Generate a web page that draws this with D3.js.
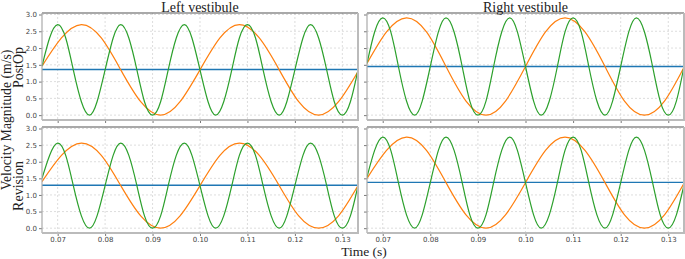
<!DOCTYPE html>
<html>
<head>
<meta charset="utf-8">
<script src="https://cdn.jsdelivr.net/npm/d3@7"></script>
<style>
  html, body { margin: 0; padding: 0; background: #fff; }
  svg { display: block; }
</style>
</head>
<body>
<div id="chart"></div>
<script>
// sample times (s) read along the x axis
const timeOrange = [0.0667, 0.0708, 0.0750, 0.0792, 0.0833, 0.0875, 0.0917, 0.0958, 0.1000,
  0.1042, 0.1083, 0.1125, 0.1167, 0.1208, 0.1250, 0.1292, 0.1333];
const timeGreen = [0.0667, 0.0683, 0.0700, 0.0717, 0.0733, 0.0750, 0.0767, 0.0783,
  0.0800, 0.0817, 0.0833, 0.0850, 0.0867, 0.0883, 0.0900, 0.0917,
  0.0933, 0.0950, 0.0967, 0.0983, 0.1000, 0.1017, 0.1033, 0.1050,
  0.1067, 0.1083, 0.1100, 0.1117, 0.1133, 0.1150, 0.1167, 0.1183,
  0.1200, 0.1217, 0.1233, 0.1250, 0.1267, 0.1283, 0.1300, 0.1317, 0.1333];

const xTicks = [0.07, 0.08, 0.09, 0.10, 0.11, 0.12, 0.13];
const yTicks = [0.0, 0.5, 1.0, 1.5, 2.0, 2.5, 3.0];
const colTitles = ['Left vestibule', 'Right vestibule'];
const rowTitles = ['PostOp', 'Revision'];

// mean velocity (blue, flat)
const postOpLeftMean = 1.36;
const postOpRightMean = 1.45;
const revisionLeftMean = 1.29;
const revisionRightMean = 1.38;

// orange curve
const postOpLeftOrange = [1.46, 2.30, 2.70, 2.30, 1.35, 0.40, 0.00, 0.40, 1.35,
  2.30, 2.70, 2.30, 1.35, 0.40, 0.00, 0.40, 1.30];
const postOpRightOrange = [1.54, 2.48, 2.90, 2.48, 1.45, 0.42, 0.00, 0.42, 1.45,
  2.48, 2.90, 2.48, 1.45, 0.42, 0.00, 0.42, 1.43];
const revisionLeftOrange = [1.40, 2.19, 2.56, 2.19, 1.28, 0.37, 0.00, 0.37, 1.28,
  2.19, 2.56, 2.19, 1.28, 0.37, 0.00, 0.37, 1.28];
const revisionRightOrange = [1.50, 2.34, 2.74, 2.34, 1.37, 0.40, 0.00, 0.40, 1.37,
  2.34, 2.74, 2.34, 1.37, 0.40, 0.00, 0.40, 1.35];

// green curve
const postOpLeftGreen = [1.46, 2.30, 2.70, 2.30, 1.35, 0.40, 0.00, 0.40,
  1.35, 2.30, 2.70, 2.30, 1.35, 0.40, 0.00, 0.40,
  1.35, 2.30, 2.70, 2.30, 1.35, 0.40, 0.00, 0.40,
  1.35, 2.30, 2.70, 2.30, 1.35, 0.40, 0.00, 0.40,
  1.35, 2.30, 2.70, 2.30, 1.35, 0.40, 0.00, 0.40, 1.35];
const postOpRightGreen = [1.54, 2.48, 2.90, 2.48, 1.45, 0.42, 0.00, 0.42,
  1.45, 2.48, 2.90, 2.48, 1.45, 0.42, 0.00, 0.42,
  1.45, 2.48, 2.90, 2.48, 1.45, 0.42, 0.00, 0.42,
  1.45, 2.48, 2.90, 2.48, 1.45, 0.42, 0.00, 0.42,
  1.45, 2.48, 2.90, 2.48, 1.45, 0.42, 0.00, 0.42, 1.45];
const revisionLeftGreen = [1.50, 2.19, 2.56, 2.19, 1.28, 0.37, 0.00, 0.37,
  1.28, 2.19, 2.56, 2.19, 1.28, 0.37, 0.00, 0.37,
  1.28, 2.19, 2.56, 2.19, 1.28, 0.37, 0.00, 0.37,
  1.28, 2.19, 2.56, 2.19, 1.28, 0.37, 0.00, 0.37,
  1.28, 2.19, 2.56, 2.19, 1.28, 0.37, 0.00, 0.37, 1.28];
const revisionRightGreen = [1.54, 2.34, 2.74, 2.34, 1.37, 0.40, 0.00, 0.40,
  1.37, 2.34, 2.74, 2.34, 1.37, 0.40, 0.00, 0.40,
  1.37, 2.34, 2.74, 2.34, 1.37, 0.40, 0.00, 0.40,
  1.37, 2.34, 2.74, 2.34, 1.37, 0.40, 0.00, 0.40,
  1.37, 2.34, 2.74, 2.34, 1.37, 0.40, 0.00, 0.40, 1.30];

const panels = [
  { row: 0, col: 0, mean: postOpLeftMean, orange: postOpLeftOrange, green: postOpLeftGreen },
  { row: 0, col: 1, mean: postOpRightMean, orange: postOpRightOrange, green: postOpRightGreen },
  { row: 1, col: 0, mean: revisionLeftMean, orange: revisionLeftOrange, green: revisionLeftGreen },
  { row: 1, col: 1, mean: revisionRightMean, orange: revisionRightOrange, green: revisionRightGreen },
];

const width = 685, height = 259;
const colX = [[42, 358], [367, 684]];
const rowY = [[13, 120], [127, 233]];

const svg = d3.select('#chart').append('svg').attr('width', width).attr('height', height);
const serif = '"Liberation Serif", "DejaVu Serif", serif';
const sans = '"DejaVu Sans", sans-serif';

panels.forEach((p) => {
  const [x0, x1] = colX[p.col];
  const [y0, y1] = rowY[p.row];
  const x = d3.scaleLinear().domain([0.0667, 0.1333]).range([x0, x1]);
  const y = d3.scaleLinear().domain([-0.145, 3.045]).range([y1, y0]);
  const g = svg.append('g');
  const clipId = `clip-${p.row}-${p.col}`;
  svg.append('clipPath').attr('id', clipId)
    .append('rect').attr('x', x0).attr('y', y0).attr('width', x1 - x0).attr('height', y1 - y0);

  // grid
  g.append('g').selectAll('line').data(xTicks).join('line')
    .attr('x1', (d) => x(d)).attr('x2', (d) => x(d)).attr('y1', y0).attr('y2', y1)
    .attr('stroke', '#d4d4d4').attr('stroke-width', 0.8).attr('stroke-dasharray', '2,2');
  g.append('g').selectAll('line').data(yTicks).join('line')
    .attr('y1', (d) => y(d)).attr('y2', (d) => y(d)).attr('x1', x0).attr('x2', x1)
    .attr('stroke', '#d4d4d4').attr('stroke-width', 0.8).attr('stroke-dasharray', '2,2');

  // axes
  const yAxis = g.append('g').attr('transform', `translate(${x0},0)`)
    .call(d3.axisLeft(y).tickValues(yTicks).tickSize(3).tickPadding(2)
      .tickFormat(p.col === 0 ? d3.format('.1f') : () => ''));
  const xAxis = g.append('g').attr('transform', `translate(0,${y1})`)
    .call(d3.axisBottom(x).tickValues(xTicks).tickSize(3).tickPadding(1)
      .tickFormat(p.row === 1 ? d3.format('.2f') : () => ''));
  [yAxis, xAxis].forEach((a) => {
    a.select('.domain').remove();
    a.selectAll('.tick line').attr('stroke', '#555').attr('stroke-width', 0.8);
    a.selectAll('.tick text').attr('fill', '#444').attr('font-family', sans).attr('font-size', 7);
  });

  // lines
  const lines = g.append('g').attr('clip-path', `url(#${clipId})`);
  lines.append('line')
    .attr('x1', x(0.0667)).attr('x2', x(0.1333)).attr('y1', y(p.mean)).attr('y2', y(p.mean))
    .attr('stroke', '#1f77b4').attr('stroke-width', 1.4);
  const orangeLine = d3.line().x((d, i) => x(timeOrange[i])).y((d) => y(d)).curve(d3.curveNatural);
  const greenLine = d3.line().x((d, i) => x(timeGreen[i])).y((d) => y(d)).curve(d3.curveNatural);
  lines.append('path').attr('d', orangeLine(p.orange))
    .attr('fill', 'none').attr('stroke', '#ff7f0e').attr('stroke-width', 1.2);
  lines.append('path').attr('d', greenLine(p.green))
    .attr('fill', 'none').attr('stroke', '#2ca02c').attr('stroke-width', 1.2);

  // spines
  g.append('line').attr('x1', x0).attr('x2', x1).attr('y1', y0).attr('y2', y0)
    .attr('stroke', '#555').attr('stroke-width', 1.2);
  g.append('line').attr('x1', x0).attr('x2', x0).attr('y1', y0).attr('y2', y1)
    .attr('stroke', '#aaa').attr('stroke-width', 1.2);
  g.append('line').attr('x1', x1).attr('x2', x1).attr('y1', y0).attr('y2', y1 + 1)
    .attr('stroke', '#bbb').attr('stroke-width', 2);
  g.append('line').attr('x1', x0).attr('x2', x1 + 1).attr('y1', y1).attr('y2', y1)
    .attr('stroke', '#bbb').attr('stroke-width', 2);
});

// titles
colTitles.forEach((t, i) => {
  svg.append('text').attr('x', (colX[i][0] + colX[i][1]) / 2).attr('y', 11.5)
    .attr('text-anchor', 'middle').attr('font-family', serif).attr('font-size', 14)
    .attr('fill', '#222').text(t);
});
const rowCenters = [67.5, 186];
rowTitles.forEach((t, i) => {
  svg.append('text').attr('transform', `translate(22.5,${rowCenters[i]}) rotate(-90)`)
    .attr('text-anchor', 'middle').attr('font-family', serif).attr('font-size', 14)
    .attr('fill', '#222').text(t);
});
svg.append('text').attr('transform', 'translate(10.5,120) rotate(-90)')
  .attr('text-anchor', 'middle').attr('font-family', serif).attr('font-size', 13.7)
  .attr('fill', '#222').text('Velocity Magnitude (m/s)');
svg.append('text').attr('x', 364).attr('y', 255.5)
  .attr('text-anchor', 'middle').attr('font-family', serif).attr('font-size', 13.5)
  .attr('fill', '#222').text('Time (s)');
</script>
</body>
</html>
